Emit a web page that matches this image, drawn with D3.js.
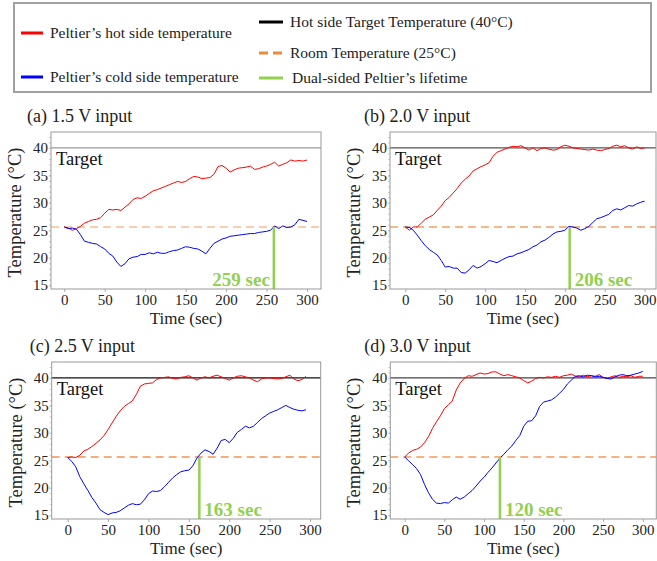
<!DOCTYPE html>
<html>
<head>
<meta charset="utf-8">
<script src="https://cdn.jsdelivr.net/npm/d3@7"></script>
<style>
body{margin:0;background:#fff;}
svg{display:block;font-family:"Liberation Serif",serif;}
</style>
</head>
<body>
<svg id="chart" width="657" height="561"></svg>
<script>
// time axis (sec), one sample every 5 s
var time = [0,5,10,15,20,25,30,35,40,45,50,55,60,65,70,75,80,85,90,95,100,105,110,115,120,125,130,135,140,145,150,
            155,160,165,170,175,180,185,190,195,200,205,210,215,220,225,230,235,240,245,250,255,260,265,270,275,280,285,290,295,300];

// (a) 1.5 V
var hotA = [25.6,25.4,25.0,25.3,25.7,26.3,26.6,26.9,27.0,27.3,28.1,28.8,28.7,28.8,28.6,29.2,29.8,30.6,30.9,30.8,31.2,
            31.7,32.2,32.4,32.7,33.0,33.3,33.6,33.9,33.7,33.9,34.4,34.8,34.7,34.4,34.5,34.6,35.2,36.6,36.8,36.3,
            35.6,36.0,36.3,36.4,36.5,36.7,36.1,36.2,36.5,36.7,37.0,37.4,36.7,37.0,37.3,37.8,37.6,37.7,37.6,37.8];
var coldA = [25.6,25.3,25.4,25.2,24.2,23.0,22.8,22.6,22.5,22.0,21.6,20.8,20.3,19.2,18.4,18.9,19.8,20.1,20.2,20.6,20.6,
             20.9,20.7,21.0,20.8,20.8,21.1,21.3,21.4,21.7,22.0,21.9,21.7,21.6,21.2,20.7,21.7,22.6,23.0,23.4,23.6,
             23.9,24.0,24.1,24.2,24.3,24.4,24.4,24.6,24.7,24.8,25.0,25.8,25.3,25.8,25.5,25.6,26.0,27.0,26.8,26.6];

// (b) 2.0 V
var hotB = [25.6,25.0,25.6,25.6,26.3,27.0,27.4,27.8,28.6,29.4,30.4,31.0,31.8,32.6,33.6,34.3,34.9,35.8,36.2,36.6,36.9,
            37.3,38.5,39.2,39.5,39.8,40.1,40.3,40.2,40.4,40.0,39.6,40.0,39.5,39.9,40.0,39.8,39.6,39.7,40.2,40.5,
            40.3,40.0,39.9,39.8,39.7,39.6,39.8,39.6,39.5,39.7,39.9,40.3,40.5,40.2,40.4,40.0,39.8,40.2,39.9,40.0];
var coldB = [25.6,25.5,25.0,24.1,23.1,22.2,21.5,21.0,20.5,19.5,18.3,18.4,18.1,18.1,17.3,17.2,17.8,18.6,18.1,18.4,18.9,
             19.5,19.3,19.1,19.5,19.9,20.2,20.3,20.7,20.9,21.2,21.5,22.0,22.3,22.9,23.2,23.7,24.3,24.7,24.8,25.0,
             25.7,25.6,25.4,25.0,25.3,25.7,26.4,27.1,27.3,27.6,27.9,28.6,28.9,28.7,29.1,29.5,29.4,29.8,30.1,30.3];

// (c) 2.5 V
var hotC = [25.5,25.6,25.5,25.9,26.7,27.0,27.5,28.1,28.7,29.5,30.6,31.8,33.0,34.0,34.8,35.3,35.8,37.0,38.5,38.9,39.0,
            39.1,39.7,40.0,40.1,40.2,39.9,39.8,40.1,40.2,40.4,40.0,39.6,40.0,40.2,40.0,40.3,40.5,40.2,39.9,39.6,
            40.0,40.3,40.4,40.2,40.0,39.6,39.3,39.8,40.0,40.0,39.9,39.8,39.9,40.2,40.5,39.8,39.5,39.7,40.3,null];
var coldC = [25.5,24.8,23.8,22.0,20.7,19.5,18.2,17.2,16.0,15.5,15.1,15.4,15.5,15.8,16.3,16.8,17.1,16.9,17.0,17.8,18.9,
             19.4,19.3,19.5,20.2,21.0,21.8,22.4,22.9,23.1,23.2,24.0,25.4,26.3,26.9,26.6,26.1,27.2,28.6,28.8,28.2,
             29.0,30.1,30.6,31.2,30.9,31.2,31.9,32.6,33.1,33.6,33.9,34.2,34.6,35.0,34.6,34.3,34.1,34.0,34.2,null];

// (d) 3.0 V
var hotD = [25.6,26.3,26.8,27.0,27.4,28.2,29.3,30.8,32.0,33.1,34.4,35.1,35.8,37.8,39.1,39.9,40.4,40.3,40.6,40.9,40.7,
            40.8,41.1,41.1,40.7,40.4,40.6,40.4,40.2,40.0,39.5,39.1,39.4,39.9,40.1,40.0,40.2,40.1,40.3,40.1,40.4,
            40.5,40.7,40.3,40.2,40.5,40.2,40.4,40.3,40.6,40.1,39.9,40.2,40.4,40.1,40.3,40.2,40.4,40.1,40.3,40.3];
var coldD = [25.6,24.9,24.2,23.5,22.4,20.6,19.1,17.9,17.2,17.1,17.3,17.2,17.8,18.3,17.9,18.3,18.9,19.5,20.3,21.2,21.9,
             22.8,23.6,24.5,25.4,26.1,26.9,27.6,28.6,29.5,31.2,32.1,32.2,33.1,34.8,35.6,35.8,36.0,36.5,37.2,37.9,
             38.9,39.6,40.3,40.4,40.2,40.5,40.4,40.2,40.3,40.1,39.9,39.8,40.2,40.5,40.6,40.4,40.5,40.7,40.9,41.2];

var titles = ["(a) 1.5 V input","(b) 2.0 V input","(c) 2.5 V input","(d) 3.0 V input"];
var lifetime = [259,206,163,120];
var targetTemp = 40;
var roomTemp = 25.6;
var yTicks = [15,20,25,30,35,40];
var xTicks = [0,50,100,150,200,250,300];
var legendLeft = ["Peltier’s hot side temperature","Peltier’s cold side temperature"];
var legendRight = ["Hot side Target Temperature (40°C)","Room Temperature (25°C)","Dual-sided Peltier’s lifetime"];

var RED = "#ff0000", BLUE = "#0000ff", GREEN = "#92d050", ORANGE = "#f0883e";
var FONT = "Liberation Serif";

var svg = d3.select("#chart");

// legend
var lg = svg.append("g");
lg.append("rect").attr("x",14).attr("y",3).attr("width",637).attr("height",89)
  .attr("fill","#fff").attr("stroke","#a0a0a0").attr("stroke-width",2);
var leftCols = [RED, BLUE], leftY = [33, 77];
legendLeft.forEach(function(t,i){
    lg.append("line").attr("x1",21).attr("x2",43).attr("y1",leftY[i]).attr("y2",leftY[i])
      .attr("stroke",leftCols[i]).attr("stroke-width",3);
    lg.append("text").attr("x",50).attr("y",leftY[i]).attr("dy","0.35em")
      .attr("font-size",15.5).attr("fill","#222").text(t);
});
var rightCols = ["#000", ORANGE, GREEN], rightY = [22, 53, 78];
legendRight.forEach(function(t,i){
    var l = lg.append("line").attr("x1",259).attr("x2",283).attr("y1",rightY[i]).attr("y2",rightY[i])
      .attr("stroke",rightCols[i]).attr("stroke-width",3);
    if(i==1) l.attr("stroke-dasharray","9,5");
    lg.append("text").attr("x",i==2?292:290).attr("y",rightY[i]).attr("dy","0.35em")
      .attr("font-size",15.5).attr("fill","#222").text(t);
});

// panels
var panels = [
    {hot:hotA, cold:coldA, left:51,    top:132, w:270, xmin:-16.4, xmax:317.3, target:"#999", roomOp:0.55, lifeSide:"left"},
    {hot:hotB, cold:coldB, left:390,   top:132, w:266, xmin:-19.2, xmax:314.2, target:"#555", roomOp:0.8,  lifeSide:"right"},
    {hot:hotC, cold:coldC, left:51.7,  top:362, w:269, xmin:-19.8, xmax:313.2, target:"#111", roomOp:0.9,  lifeSide:"right"},
    {hot:hotD, cold:coldD, left:390.3, top:362, w:266, xmin:-18.1, xmax:317,   target:"#444", roomOp:0.85, lifeSide:"right"}
];
var H = 157;

panels.forEach(function(p,k){
    var x = d3.scaleLinear().domain([p.xmin,p.xmax]).range([p.left,p.left+p.w]);
    var y = d3.scaleLinear().domain([14.3,42.9]).range([p.top+H,p.top]);
    var g = svg.append("g");

    g.append("text").attr("x",p.left-(k==0?24:(k==2?22:26))).attr("y",p.top-10)
      .attr("font-size",18).attr("fill","#222").text(titles[k]);

    // axes
    var ya = d3.axisLeft(y).tickValues(yTicks).tickSize(2).tickPadding(1);
    var yg = g.append("g").attr("transform","translate("+p.left+",0)").call(ya);
    var xa = d3.axisBottom(x).tickValues(xTicks).tickSize(3).tickPadding(2);
    var xg = g.append("g").attr("transform","translate(0,"+(p.top+H)+")").call(xa);
    [yg,xg].forEach(function(a){
        a.select(".domain").remove();
        a.selectAll(".tick line").attr("stroke","#aaa");
        a.selectAll("text").attr("font-family",FONT).attr("font-size",15).attr("fill","#222");
    });
    var minor = d3.axisLeft(y).tickValues(d3.range(15,43)).tickSize(2).tickFormat("");
    var mg = g.append("g").attr("transform","translate("+p.left+",0)").call(minor);
    mg.select(".domain").remove();
    mg.selectAll("line").attr("stroke","#ccc");

    g.append("text").attr("transform","translate("+(p.left-30)+","+(p.top+H/2+2)+") rotate(-90)")
      .attr("text-anchor","middle").attr("font-size",18.5).attr("fill","#222").text("Temperature (°C)");
    g.append("text").attr("x",p.left+p.w/2).attr("y",p.top+H+34.5)
      .attr("text-anchor","middle").attr("font-size",17).attr("fill","#222").text("Time (sec)");

    // reference lines
    g.append("line").attr("x1",p.left).attr("x2",p.left+p.w).attr("y1",y(targetTemp)).attr("y2",y(targetTemp))
      .attr("stroke",p.target).attr("stroke-width",1.2);
    g.append("text").attr("x",p.left+5).attr("y",y(targetTemp)+17)
      .attr("font-size",18.5).attr("fill","#111").text("Target");
    g.append("line").attr("x1",p.left).attr("x2",p.left+p.w).attr("y1",y(roomTemp)).attr("y2",y(roomTemp))
      .attr("stroke",ORANGE).attr("stroke-opacity",p.roomOp).attr("stroke-width",1.5).attr("stroke-dasharray","8,5");

    var line = d3.line().defined(function(d){return d[1]!=null;})
        .x(function(d){return x(d[0]);}).y(function(d){return y(d[1]);});
    g.append("path").datum(time.map(function(t,i){return [t,p.hot[i]];}))
      .attr("d",line).attr("fill","none").attr("stroke",RED).attr("stroke-width",1);
    g.append("path").datum(time.map(function(t,i){return [t,p.cold[i]];}))
      .attr("d",line).attr("fill","none").attr("stroke",BLUE).attr("stroke-width",1);

    // lifetime marker
    var lx = x(lifetime[k]);
    g.append("line").attr("x1",lx).attr("x2",lx).attr("y1",p.top+H).attr("y2",y(roomTemp))
      .attr("stroke",GREEN).attr("stroke-width",2.5);
    g.append("text").attr("x",p.lifeSide=="left"?lx-4:lx+5).attr("y",p.top+H-3)
      .attr("text-anchor",p.lifeSide=="left"?"end":"start")
      .attr("font-size",19).attr("font-weight","bold").attr("fill",GREEN).text(lifetime[k]+" sec");

    // frame
    g.append("rect").attr("x",p.left).attr("y",p.top).attr("width",p.w).attr("height",H)
      .attr("fill","none").attr("stroke","#999").attr("stroke-width",1);
});
</script>
</body>
</html>
